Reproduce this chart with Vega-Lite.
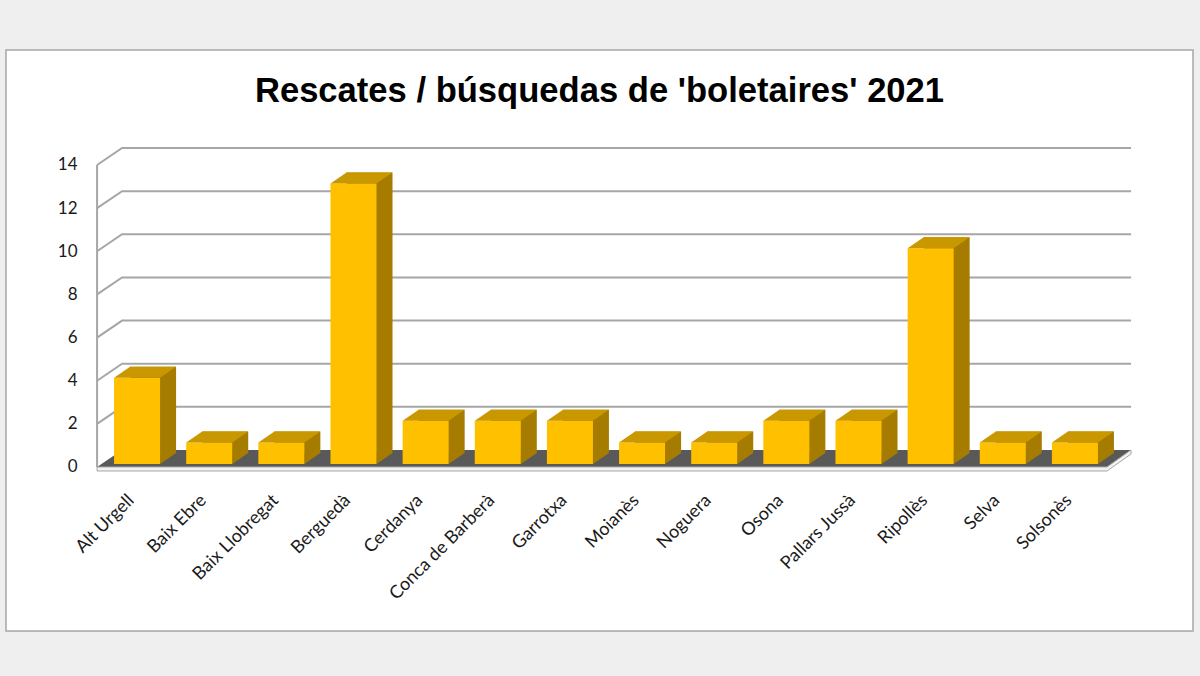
{
  "$schema": "https://vega.github.io/schema/vega-lite/v6.json",
  "width": 1187,
  "height": 581,
  "autosize": "none",
  "padding": {"left": 6, "top": 50, "right": 7, "bottom": 45},
  "background": "#efefef",
  "config": {
    "view": {"fill": "white", "stroke": "#a6a6a6", "strokeWidth": 1.5},
    "axis": {"labelFont": "Lato", "labelFontSize": 18, "labelColor": "#1a1a1a", "ticks": false, "domain": false, "grid": false}
  },
  "title": {
    "text": "Rescates / búsquedas de 'boletaires' 2021",
    "font": "Liberation Sans",
    "fontSize": 34.6,
    "fontWeight": "bold",
    "color": "#000000",
    "anchor": "middle",
    "frame": "group",
    "baseline": "alphabetic",
    "offset": -87
  },
  "datasets": {
    "rescates": [
      {"comarca": "Alt Urgell", "n": 4},
      {"comarca": "Baix Ebre", "n": 1},
      {"comarca": "Baix Llobregat", "n": 1},
      {"comarca": "Berguedà", "n": 13},
      {"comarca": "Cerdanya", "n": 2},
      {"comarca": "Conca de Barberà", "n": 2},
      {"comarca": "Garrotxa", "n": 2},
      {"comarca": "Moianès", "n": 1},
      {"comarca": "Noguera", "n": 1},
      {"comarca": "Osona", "n": 2},
      {"comarca": "Pallars Jussà", "n": 2},
      {"comarca": "Ripollès", "n": 10},
      {"comarca": "Selva", "n": 1},
      {"comarca": "Solsonès", "n": 1}
    ],
    "grid": [{"v": 2}, {"v": 4}, {"v": 6}, {"v": 8}, {"v": 10}, {"v": 12}, {"v": 14}]
  },
  "data": {"name": "rescates"},
  "layer": [
    {
      "data": {"name": "grid"},
      "mark": {"type": "point", "shape": "M-36,0L-11,-17L998,-17", "size": 4, "filled": false, "color": "#a6a6a6", "strokeWidth": 2, "opacity": 1},
      "encoding": {
        "x": {"datum": "Alt Urgell", "type": "nominal", "title": null},
        "y": {"field": "v", "type": "quantitative", "title": null}
      }
    },
    {
      "data": {"values": [{"v": 0}]},
      "mark": {"type": "rule", "color": "#a6a6a6", "strokeWidth": 2, "xOffset": -36},
      "encoding": {
        "x": {"datum": "Alt Urgell", "type": "nominal", "title": null},
        "y": {"field": "v", "type": "quantitative", "title": null},
        "y2": {"datum": 14}
      }
    },
    {
      "data": {"values": [{"v": 0}]},
      "mark": {"type": "point", "shape": "M-36,0L974,0L998,-17L-11,-17Z", "size": 4, "filled": true, "color": "#595959", "strokeWidth": 0, "opacity": 1},
      "encoding": {
        "x": {"datum": "Alt Urgell", "type": "nominal", "title": null},
        "y": {"field": "v", "type": "quantitative", "title": null}
      }
    },
    {
      "data": {"values": [{"v": 0}]},
      "mark": {"type": "point", "shape": "M-36,0L974,0L998,-17L998,-13L974,4L-36,4Z", "size": 4, "filled": true, "fill": "#f2f2f2", "stroke": "#a6a6a6", "strokeWidth": 1, "opacity": 1},
      "encoding": {
        "x": {"datum": "Alt Urgell", "type": "nominal", "title": null},
        "y": {"field": "v", "type": "quantitative", "title": null}
      }
    },
    {
      "mark": {"type": "bar", "color": "#a67c00", "xOffset": 20, "x2Offset": 20, "yOffset": -14, "y2Offset": -14},
      "encoding": {
        "x": {"field": "comarca", "type": "nominal", "title": null},
        "y": {"field": "n", "type": "quantitative", "title": null}
      }
    },
    {
      "mark": {"type": "point", "shape": "M27,-14L43,-14L27,-3Z", "size": 4, "filled": true, "color": "#a67c00", "strokeWidth": 0, "opacity": 1},
      "encoding": {
        "x": {"field": "comarca", "type": "nominal", "title": null},
        "y": {"datum": 0, "type": "quantitative", "title": null}
      }
    },
    {
      "mark": {"type": "bar", "color": "#ffc000", "xOffset": 4, "x2Offset": 4, "yOffset": -3, "y2Offset": -3},
      "encoding": {
        "x": {
          "field": "comarca",
          "type": "nominal",
          "title": null,
          "scale": {
            "domain": ["Alt Urgell", "Baix Ebre", "Baix Llobregat", "Berguedà", "Cerdanya", "Conca de Barberà", "Garrotxa", "Moianès", "Noguera", "Osona", "Pallars Jussà", "Ripollès", "Selva", "Solsonès"],
            "range": [91, 1101],
            "paddingInner": 0.362,
            "paddingOuter": 0.181
          },
          "axis": {"labelAngle": -45, "labelAlign": "right", "labelBaseline": "top", "labelOffset": -8, "offset": -140, "labelPadding": 0}
        },
        "y": {
          "field": "n",
          "type": "quantitative",
          "title": null,
          "scale": {"domain": [-7.603, 19.331], "nice": false, "zero": false},
          "axis": {"values": [0, 2, 4, 6, 8, 10, 12, 14], "offset": -71, "labelPadding": 0, "labelFontSize": 17}
        }
      }
    },
    {
      "mark": {"type": "point", "shape": "M-19,-3L27,-3L43,-14L-3,-14Z", "size": 4, "filled": true, "color": "#c99700", "strokeWidth": 0, "opacity": 1},
      "encoding": {
        "x": {"field": "comarca", "type": "nominal", "title": null},
        "y": {"field": "n", "type": "quantitative", "title": null}
      }
    }
  ]
}
